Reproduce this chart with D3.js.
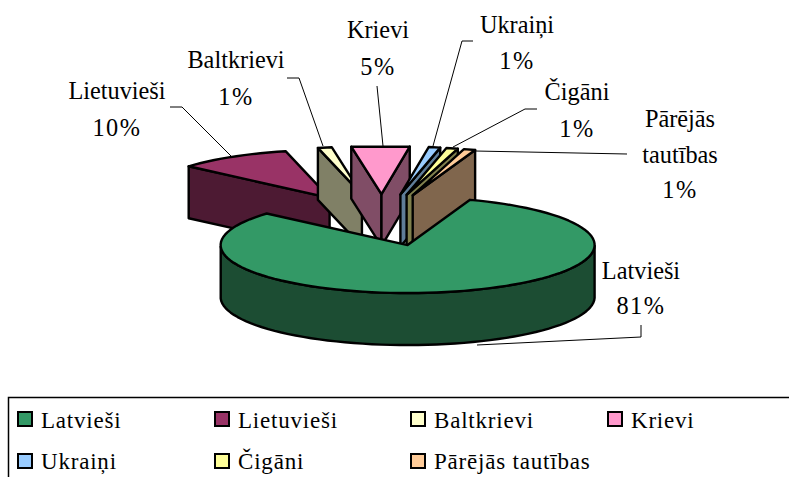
<!DOCTYPE html>
<html><head><meta charset="utf-8">
<script src="https://cdn.jsdelivr.net/npm/d3@7"></script>
<style>html,body{margin:0;padding:0;background:#fff}svg{display:block}</style>
</head><body><div id="c"></div>
<script>
const categories=["Latvieši","Lietuvieši","Baltkrievi","Krievi","Ukraiņi","Čigāni","Pārējās tautības"];
const values=[81,9.8,1.2,5,1,1,1];
const topColors=["#339966","#993366","#ffffcc","#ff99cc","#99ccff","#ffff99","#ffcc99"];
const wallColors=["#1c4d33","#4d1a33","#808066","#804d66","#5f7d99","#80804d","#80664d"];
const labelLines=[["Latvieši","81%"],["Lietuvieši","10%"],["Baltkrievi","1%"],["Krievi","5%"],["Ukraiņi","1%"],["Čigāni","1%"],["Pārējās","tautības","1%"]];
const drawOrder=[1,2,3,4,5,6,0];

const W=789,H=477,FONT="Liberation Serif";
const svg=d3.select("#c").append("svg").attr("width",W).attr("height",H);
const cx=382,cy=220,rx=187,ry=48,depth=52,explode=0.54;
const X=d3.scaleLinear().domain([-1,1]).range([cx-rx,cx+rx]);
const Y=d3.scaleLinear().domain([-1,1]).range([cy-ry,cy+ry]);
const start=19.5*Math.PI/180;
const arcs=d3.pie().sort(null).startAngle(start).endAngle(start+2*Math.PI)(values);
const pt=(a,r,o)=>[X(o[0]+r*Math.sin(a)),Y(o[1]-r*Math.cos(a))];
const line=d3.line();
const g=svg.append("g");
const STROKE=2.4;
function poly(pts,fill){g.append("path").attr("d",line(pts)+"Z").attr("fill",fill).attr("stroke","#000").attr("stroke-width",STROKE).attr("stroke-linejoin","round");}
drawOrder.forEach(i=>{
  const s=arcs[i],mid=(s.startAngle+s.endAngle)/2,span=s.endAngle-s.startAngle;
  const o=[explode*Math.sin(mid),-explode*Math.cos(mid)];
  const n=span<0.4?1:Math.ceil(span/0.05);
  const angs=d3.range(n+1).map(k=>s.startAngle+span*k/n);
  const down=p=>[p[0],p[1]+depth];
  const apex=pt(0,0,o);
  if(Math.sin(s.startAngle)<0&&span<Math.PI){const q=pt(s.startAngle,1,o);poly([apex,q,down(q),down(apex)],wallColors[i]);}
  if(Math.sin(s.endAngle)>0&&span<Math.PI){const q=pt(s.endAngle,1,o);poly([apex,q,down(q),down(apex)],wallColors[i]);}
  const front=angs.filter(a=>Math.cos(a)<0);
  if(front.length>1){const up=front.map(a=>pt(a,1,o));poly(up.concat(up.map(down).reverse()),wallColors[i]);}
  poly([apex].concat(angs.map(a=>pt(a,1,o))),topColors[i]);
});

const leaderPaths=[
 [[641,325],[641,337],[477,345]],
 [[170,107],[182,107],[232,157]],
 [[287,78],[299,78],[323,146]],
 [[377,86],[383,146]],
 [[473,41],[462,41],[433,146]],
 [[537,109],[525,109],[453,147]],
 [[627,154],[475,151]]
];
leaderPaths.forEach(p=>svg.append("path").attr("d",line(p)).attr("fill","none").attr("stroke","#000").attr("stroke-width",1));

const labelPos=[[641,279],[117,99],[236,68],[378,38],[517,33],[577,100],[680,127]];
const lineGap=[35,37,37,37,36,37,35.5];
labelLines.forEach((ls,i)=>ls.forEach((t,k)=>svg.append("text").attr("x",labelPos[i][0]).attr("y",labelPos[i][1]+k*lineGap[i]).attr("text-anchor","middle").attr("font-family",FONT).attr("font-size",24.3).attr("letter-spacing",t.endsWith("%")?1.5:0).text(t)));

svg.append("path").attr("d","M790,397.5H8.5V478").attr("fill","none").attr("stroke","#000").attr("stroke-width",1.5);
const colX=[18,215,411,608],rowY=[412,454];
categories.forEach((c,i)=>{
  const col=i<4?i:i-4,row=i<4?0:1;
  svg.append("rect").attr("x",colX[col]).attr("y",rowY[row]).attr("width",14).attr("height",14).attr("fill",topColors[i]).attr("stroke","#000").attr("stroke-width",2);
  svg.append("text").attr("x",colX[col]+23).attr("y",rowY[row]+(row?15:16)).attr("font-family",FONT).attr("font-size",23).attr("letter-spacing",0.8).text(c);
});
</script></body></html>
